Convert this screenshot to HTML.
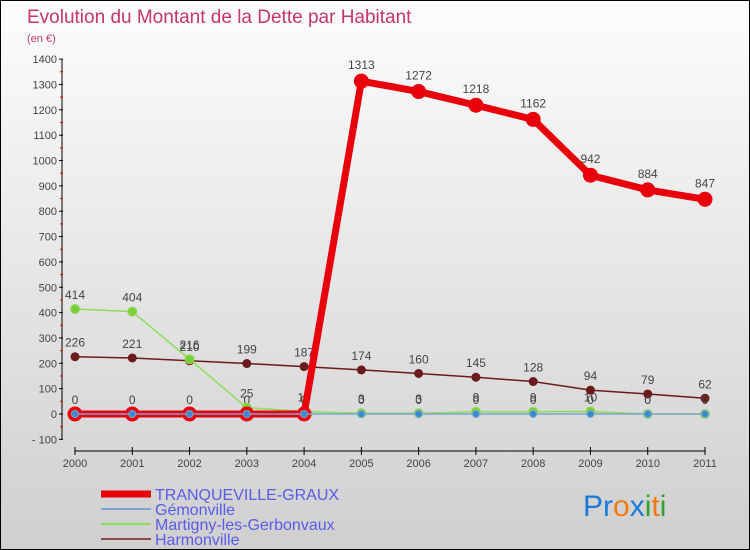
<!DOCTYPE html>
<html><head><meta charset="utf-8"><style>
body{margin:0}
#c{width:748px;height:548px;border:1px solid #000;background:linear-gradient(#fdfdfd,#cfcfcf);position:relative;font-family:"Liberation Sans",sans-serif;overflow:hidden}
</style></head><body>
<div id="c">
<svg id="s" width="748" height="548" style="position:absolute;left:0;top:0"></svg>
</div>
<script>
const years=[2000,2001,2002,2003,2004,2005,2006,2007,2008,2009,2010,2011];
const yTicks=[-100,0,100,200,300,400,500,600,700,800,900,1000,1100,1200,1300,1400];
const tranq=[0,0,0,0,0,1313,1272,1218,1162,942,884,847];
const gemon=[0,0,0,0,0,0,0,0,0,0,0,0];
const martigny=[414,404,216,25,10,3,3,9,9,10,0,0];
const harmon=[226,221,210,199,187,174,160,145,128,94,79,62];
const NS="http://www.w3.org/2000/svg";
const s=document.getElementById('s');
const X=i=>74+i*(630/11);
const Y=v=>413-v*0.2535;
function el(t,a,txt){const e=document.createElementNS(NS,t);for(const k in a)e.setAttribute(k,a[k]);if(txt!=null)e.textContent=txt;s.appendChild(e);return e;}
let e;
e=el('text',{x:26,y:22,fill:'#c8346c','font-size':19},'Evolution du Montant de la Dette par Habitant');

e=el('text',{x:26,y:41,fill:'#c8346c','font-size':11},'(en €)');

e=el('line',{x1:61,y1:Y(1400),x2:61,y2:Y(-100),stroke:'#000'});

yTicks.forEach((v,i)=>{
 el('line',{x1:58,y1:Y(v),x2:62,y2:Y(v),stroke:'#000'});
 if(i<yTicks.length-1)el('line',{x1:59,y1:Y(v+50),x2:62,y2:Y(v+50),stroke:'#e00'});
 e=el('text',{x:56,y:Y(v)+4,'text-anchor':'end','font-size':11,fill:'#444'},v===-100?'- 100':String(v));
 
});
e=el('line',{x1:X(0),y1:450,x2:X(11),y2:450,stroke:'#000'});

years.forEach((y,i)=>{
 el('line',{x1:X(i),y1:446,x2:X(i),y2:454,stroke:'#000'});
 e=el('text',{x:X(i),y:466,'text-anchor':'middle','font-size':11,fill:'#444'},String(y));
 
});
function series(vals,color,w,r,name,fill,labels){
 e=el('polyline',{points:vals.map((v,i)=>X(i)+','+Y(v)).join(' '),fill:'none',stroke:color,'stroke-width':w,'stroke-linejoin':'round'});
 
 vals.forEach((v,i)=>{
  e=el('circle',{cx:X(i),cy:Y(v),r:r,fill:fill,stroke:color,'stroke-width':w>4?3:1});
  
  if(labels){e=el('text',{x:X(i),y:Y(v)-10,'text-anchor':'middle','font-size':12,fill:'#444'},String(v));
  }
 });
}
gemon.forEach((v,i)=>{e=el('text',{x:X(i),y:Y(v)-10,'text-anchor':'middle','font-size':12,fill:'#444'},String(v));});
series(harmon,'#6b1a1e',1.5,4,'harmonville','#6b1a1e',true);
series(martigny,'#8fdc5a',1.5,4.5,'martigny','#7ccf3a',false);
martigny.forEach((v,i)=>{e=el('text',{x:X(i),y:Y(v)-10,'text-anchor':'middle','font-size':12,fill:'#444'},String(v));});
series(tranq,'#e8000a',7,6,'tranqueville','#e8000a',false);
tranq.forEach((v,i)=>{if(v>0){e=el('text',{x:X(i),y:Y(v)-12,'text-anchor':'middle','font-size':12,fill:'#444'},String(v));}});
series(gemon,'#7aa6d0',1.5,3.5,'gemonville','#3a8ad0',false);
const leg=[['TRANQUEVILLE-GRAUX','#e8000a',7],['Gémonville','#7aa6d0',2],['Martigny-les-Gerbonvaux','#8fdc5a',2],['Harmonville','#8b4a4e',2]];
leg.forEach((l,i)=>{
 const y=493+i*15;
 e=el('line',{x1:100,y1:y,x2:150,y2:y,stroke:l[1],'stroke-width':l[2]});
 
 e=el('text',{x:154,y:y+6,'font-size':16,fill:'#5a5ae8'},l[0]);
 
});
e=el('text',{x:582,y:515,'font-size':30},'');

[['P','#1a7ad8'],['r','#1a7ad8'],['o','#f07a10'],['x','#1a7ad8'],['i','#30a030'],['t','#f07a10'],['i','#30a030']].forEach(c=>{const t=document.createElementNS(NS,'tspan');t.setAttribute('fill',c[1]);t.textContent=c[0];e.appendChild(t);});
</script>
</body></html>
